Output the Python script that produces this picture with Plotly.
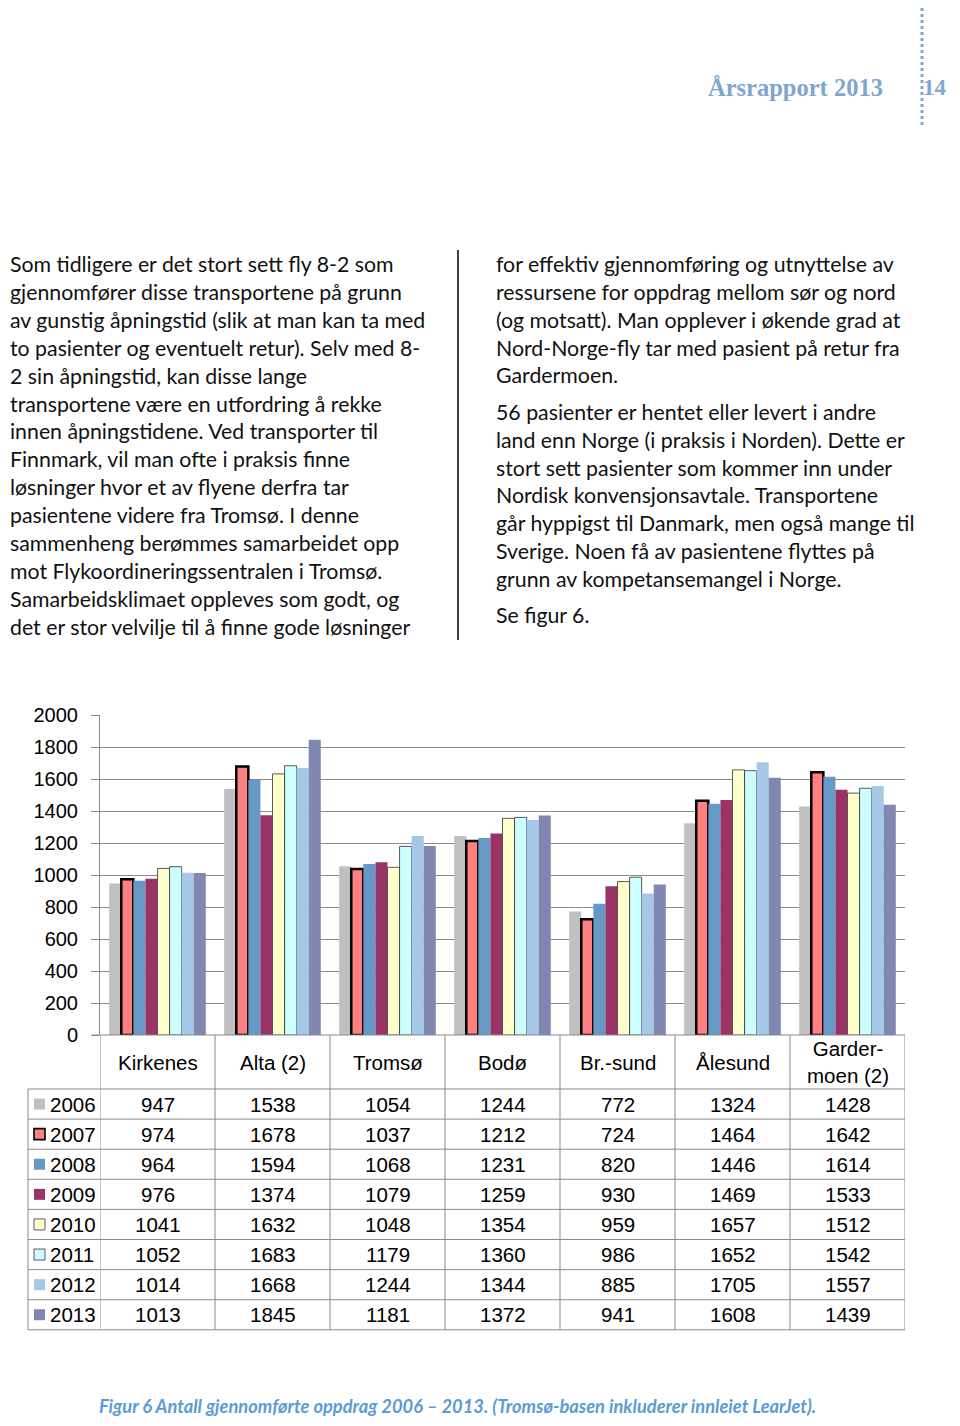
import plotly.graph_objects as go

# page geometry (the page body adds an 8px margin around the figure)
PAGE_W, PAGE_H = 960, 1426
OFF = 8
W, H = PAGE_W - 2 * OFF, PAGE_H - 2 * OFF

categories = ["Kirkenes", "Alta (2)", "Tromsø", "Bodø", "Br.-sund", "Ålesund", "Garder-<br>moen (2)"]
years = ["2006", "2007", "2008", "2009", "2010", "2011", "2012", "2013"]
v2006 = [947, 1538, 1054, 1244, 772, 1324, 1428]
v2007 = [974, 1678, 1037, 1212, 724, 1464, 1642]
v2008 = [964, 1594, 1068, 1231, 820, 1446, 1614]
v2009 = [976, 1374, 1079, 1259, 930, 1469, 1533]
v2010 = [1041, 1632, 1048, 1354, 959, 1657, 1512]
v2011 = [1052, 1683, 1179, 1360, 986, 1652, 1542]
v2012 = [1014, 1668, 1244, 1344, 885, 1705, 1557]
v2013 = [1013, 1845, 1181, 1372, 941, 1608, 1439]
series = [v2006, v2007, v2008, v2009, v2010, v2011, v2012, v2013]

colors = ["#C0C0C0", "#FF8080", "#6699C6", "#993366", "#FFFFCC", "#CCFFFF", "#A6C8E8", "#8088B2"]
line_w = [0, 2.5, 0, 0, 0.8, 0.8, 0, 0]
line_c = ["#C0C0C0", "#000000", "#6699C6", "#993366", "#333333", "#333333", "#A6C8E8", "#8088B2"]

left_lines = [
    "Som tidligere er det stort sett fly 8-2 som",
    "gjennomfører disse transportene på grunn",
    "av gunstig åpningstid (slik at man kan ta med",
    "to pasienter og eventuelt retur). Selv med 8-",
    "2 sin åpningstid, kan disse lange",
    "transportene være en utfordring å rekke",
    "innen åpningstidene. Ved transporter til",
    "Finnmark, vil man ofte i praksis finne",
    "løsninger hvor et av flyene derfra tar",
    "pasientene videre fra Tromsø. I denne",
    "sammenheng berømmes samarbeidet opp",
    "mot Flykoordineringssentralen i Tromsø.",
    "Samarbeidsklimaet oppleves som godt, og",
    "det er stor velvilje til å finne gode løsninger",
]
right_lines = [
    "for effektiv gjennomføring og utnyttelse av",
    "ressursene for oppdrag mellom sør og nord",
    "(og motsatt). Man opplever i økende grad at",
    "Nord-Norge-fly tar med pasient på retur fra",
    "Gardermoen.",
    "56 pasienter er hentet eller levert i andre",
    "land enn Norge (i praksis i Norden). Dette er",
    "stort sett pasienter som kommer inn under",
    "Nordisk konvensjonsavtale. Transportene",
    "går hyppigst til Danmark, men også mange til",
    "Sverige. Noen få av pasientene flyttes på",
    "grunn av kompetansemangel i Norge.",
    "Se figur 6.",
]
right_y = [264, 292, 320, 348, 375, 412, 440, 468, 495, 523, 551, 579, 615]

header_title = "Årsrapport 2013"
page_no = "14"
caption = "Figur 6 Antall gjennomførte oppdrag 2006 – 2013. (Tromsø-basen inkluderer innleiet LearJet)."


def px(x):
    return (x - OFF) / W


def py(y):
    return 1 - (y - OFF) / H


fig = go.Figure()
xidx = list(range(len(categories)))
for i, yr in enumerate(years):
    fig.add_trace(go.Bar(
        x=xidx, y=series[i], name=yr,
        marker=dict(color=colors[i], line=dict(width=line_w[i], color=line_c[i])),
        showlegend=False,
    ))

plot_top, plot_bot = 715, 1035
fig.update_layout(
    width=W, height=H, margin=dict(l=0, r=0, t=0, b=0, pad=0), autosize=False,
    paper_bgcolor="white", plot_bgcolor="white",
    barmode="group", bargap=0.16, bargroupgap=0,
    font=dict(family="Liberation Sans, Arial, sans-serif", color="#000"),
    xaxis=dict(domain=[px(100), px(905)], range=[-0.5, 6.5], showticklabels=False,
               showgrid=False, zeroline=False, showline=False, ticks="", automargin=False),
    yaxis=dict(domain=[py(plot_bot), py(plot_top)], range=[0, 2000], dtick=200,
               showgrid=True, gridcolor="#8A8A8A", gridwidth=1,
               showline=True, linecolor="#8A8A8A", linewidth=1,
               ticks="outside", ticklen=8, tickcolor="#8A8A8A",
               tickfont=dict(size=20, family="Liberation Sans, Arial, sans-serif"),
               ticklabelstandoff=9, zeroline=False, automargin=False),
)

shapes = []
lc = "#8A8A8A"
shapes.append(dict(type="line", xref="paper", yref="paper", x0=px(92), x1=px(905),
                   y0=py(plot_bot), y1=py(plot_bot), line=dict(color=lc, width=1)))
row_edges = [1089 + 30.1 * k for k in range(9)]
for yy in row_edges:
    shapes.append(dict(type="line", xref="paper", yref="paper", x0=px(28), x1=px(905),
                       y0=py(yy), y1=py(yy), line=dict(color=lc, width=1)))
for k in range(len(categories) + 1):
    shapes.append(dict(type="line", xref="x", yref="paper", x0=k - 0.5, x1=k - 0.5,
                       y0=py(plot_bot), y1=py(row_edges[-1]), line=dict(color=lc, width=1)))
shapes.append(dict(type="line", xref="paper", yref="paper", x0=px(28), x1=px(28),
                   y0=py(row_edges[0]), y1=py(row_edges[-1]), line=dict(color=lc, width=1)))
for i in range(len(years)):
    yc = (row_edges[i] + row_edges[i + 1]) / 2
    shapes.append(dict(type="rect", xref="paper", yref="paper",
                       x0=px(34), x1=px(45), y0=py(yc + 5.5), y1=py(yc - 5.5),
                       fillcolor=colors[i],
                       line=dict(color=line_c[i] if line_w[i] > 0 else colors[i],
                                 width=min(line_w[i], 1.6) if line_w[i] > 0 else 0)))
shapes.append(dict(type="line", xref="paper", yref="paper", x0=px(922), x1=px(922),
                   y0=py(OFF), y1=py(126), line=dict(color="#7EA6CF", width=3, dash="dot")))
shapes.append(dict(type="line", xref="paper", yref="paper", x0=px(458), x1=px(458),
                   y0=py(250), y1=py(640), line=dict(color="#000", width=1.5)))

ann = []
body_font = dict(family="Lato, Carlito, sans-serif", size=21.3, color="#111")
for k, t in enumerate(left_lines):
    ann.append(dict(text=t, xref="paper", yref="paper", x=px(OFF), y=py(264 + 27.9 * k),
                    xanchor="left", yanchor="middle", showarrow=False, font=body_font))
for t, yy in zip(right_lines, right_y):
    ann.append(dict(text=t, xref="paper", yref="paper", x=px(494), y=py(yy),
                    xanchor="left", yanchor="middle", showarrow=False, font=body_font))

hdr_font = dict(family="Liberation Serif, serif", size=24.5, color="#7EA6CF")
ann.append(dict(text="<b>" + header_title + "</b>", xref="paper", yref="paper", x=px(885), y=py(87),
                xanchor="right", yanchor="middle", showarrow=False, font=hdr_font))
ann.append(dict(text="<b>" + page_no + "</b>", xref="paper", yref="paper", x=px(949), y=py(87),
                xanchor="right", yanchor="middle", showarrow=False,
                font=dict(family="Liberation Serif, serif", size=23, color="#7EA6CF")))

tab_font = dict(family="Liberation Sans, Arial, sans-serif", size=20.5, color="#000")
for j, c in enumerate(categories):
    ann.append(dict(text=c, xref="x", yref="paper", x=j, y=py(1062),
                    xanchor="center", yanchor="middle", showarrow=False, font=tab_font))
for i, yr in enumerate(years):
    yc = (row_edges[i] + row_edges[i + 1]) / 2
    ann.append(dict(text=yr, xref="paper", yref="paper", x=px(48), y=py(yc),
                    xanchor="left", yanchor="middle", showarrow=False, font=tab_font))
    for j, v in enumerate(series[i]):
        ann.append(dict(text=str(v), xref="x", yref="paper", x=j, y=py(yc),
                        xanchor="center", yanchor="middle", showarrow=False, font=tab_font))

ann.append(dict(text="<b><i>" + caption + "</i></b>", xref="paper", yref="paper", x=px(97), y=py(1406),
                xanchor="left", yanchor="middle", showarrow=False,
                font=dict(family="Lato, Carlito, sans-serif", size=18.3, color="#5C9BD6")))

fig.update_layout(shapes=shapes, annotations=ann)
fig.write_html("out.html")
